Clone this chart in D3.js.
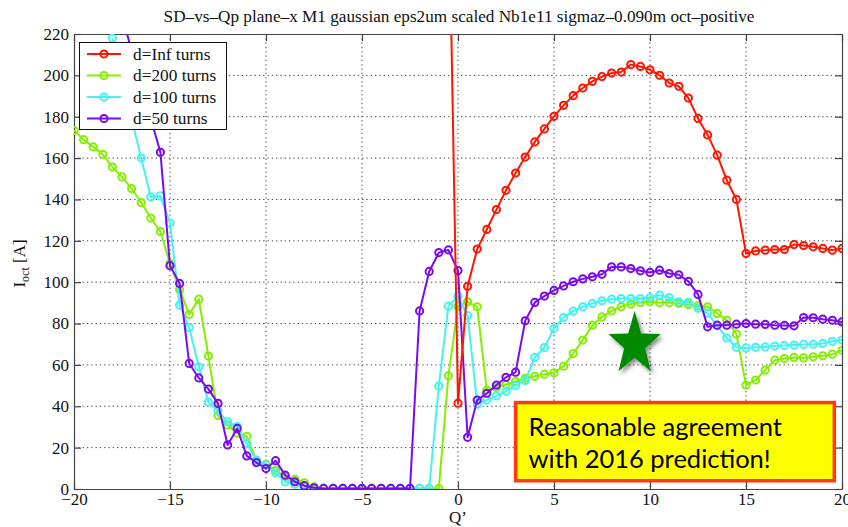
<!DOCTYPE html>
<html>
<head>
<meta charset="utf-8">
<script src="https://cdn.jsdelivr.net/npm/d3@7"></script>
<style>
  html, body { margin: 0; padding: 0; background: #fff; }
  svg { display: block; }
  text.serif, .axis text { font-family: "Liberation Serif", "Times New Roman", serif; }
</style>
</head>
<body>
<svg id="chart" width="848" height="527"></svg>
<script>
// ---------------- DATA ----------------
const titleText = "SD–vs–Qp plane–x M1 gaussian eps2um scaled Nb1e11 sigmaz–0.090m oct–positive";
const xTicks = [-20, -15, -10, -5, 0, 5, 10, 15, 20];
const yTicks = [0, 20, 40, 60, 80, 100, 120, 140, 160, 180, 200, 220];
const seriesNames = ["d=Inf turns", "d=200 turns", "d=100 turns", "d=50 turns"];
const seriesColors = ["#ff1500", "#84f000", "#45f2f2", "#7a0af0"];
const qpStep = 0.5;

// d=Inf turns, first point at Q' = -0.5
const qpStartInf = -0.5;
const iInf = [300, 41.5, 98, 116, 125.5, 135.1, 144.4, 152.8, 160.5, 167.8, 174.1, 180.2, 185.5, 190.2,
  193.9, 197.1, 199.4, 201.1, 201.6, 205.2, 204.3, 202.7, 200, 196.3, 194.7, 189, 179.2, 171.2, 161.4,
  149.3, 140, 113.9, 115.1, 115.5, 115.8, 115.8, 118.2, 117.7, 117.1, 116.3, 115.5, 116.3];

// d=200 turns, first point at Q' = -20
const qpStart200 = -20;
const i200 = [173.4, 168.9, 165.4, 161.8, 155.7, 150.9, 145.3, 138.5, 131, 124.5, 109, 96.5, 84.4, 91.8,
  64.3, 35.5, 31, 27, 25.5, 14, 12, 9, 6, 4.7, 3, 1, 0.4,
  0.3, 0.3, 0.3, 0.3, 0.3, 0.3, 0.3, 0.3, 0.3, 0.3, 0.3, 0.3,
  54.7, 88.4, 90.5, 88.1, 47.8, 49, 50.5, 52, 53.5, 54.5, 55.5, 56.2, 59.4, 65.5, 72, 79.2, 83.2, 86.1,
  88.1, 89.4, 90.2, 90.5, 90.2, 90, 89.7, 89.2, 88.5, 88.1, 84.9, 81.6, 74.9, 50.2, 52.7, 57.5, 62.3,
  63.1, 63.6, 63.4, 63.9, 64.4, 65.2, 67.1];

// d=100 turns, first point at Q' = -18
const qpStart100 = -18;
const i100 = [218, 198, 179, 160, 141.2, 141.7, 128.6, 88.9, 78.1, 59.1, 42, 37.8, 32.5, 30.3, 22, 14,
  11.6, 7.8, 3.5, 2.3, 1,
  0.3, 0.3, 0.3, 0.3, 0.3, 0.3, 0.3, 0.3, 0.3, 0.3, 0.3, 0.3, 0.3,
  49.8, 88.4, 93.2, 83.8, 41, 43, 45, 47.3, 50, 52.5, 63.6, 68.4, 77.6, 82.9, 86, 88.1, 89.7, 91, 91.8,
  92.1, 92.1, 92.1, 92.6, 93.7, 92.6, 90.5, 90.3, 87.4, 85, 79, 73, 68.5, 68.2, 68.5, 68.7, 69.1, 69.4,
  69.6, 69.9, 70, 70.4, 71.4, 72];

// d=50 turns, first point at Q' = -17.5
const qpStart50 = -17.5;
const i50 = [229, 212, 196, 179, 162.8, 108, 99.4, 60.7, 53.7, 48.3, 41.4, 21.3, 29.3, 16, 12.8, 9.9,
  13.7, 6.7, 3.5, 1.6, 0.6,
  0.3, 0.3, 0.3, 0.3, 0.3, 0.3, 0.3, 0.3, 0.3, 0.3,
  86.1, 105.2, 114.3, 115.6, 105.6, 25, 43, 46.3, 50.2, 54, 56.5, 81.3, 90.2, 93.3, 96, 98.2, 100.2,
  101.6, 102.6, 103.8, 107.4, 107.4, 106.6, 105.5, 104.7, 105.8, 104.2, 103.6, 100.4, 94.1, 78.4, 79.2,
  79.2, 79.7, 80, 79.7, 79.6, 79.2, 79.1, 78.9, 82.9, 82.8, 82.1, 81.6, 80.8];

const noteLines = ["Reasonable agreement", "with 2016 prediction!"];
const starQp = 9.2, starI = 70;

// ---------------- CHART ----------------
const svg = d3.select("#chart");
const L = 74, R = 842, T = 34, B = 489;
const x = d3.scaleLinear().domain([-20, 20]).range([L, R]);
const y = d3.scaleLinear().domain([0, 220]).range([B, T]);

const defs = svg.append("defs");
defs.append("clipPath").attr("id", "plotclip")
  .append("rect").attr("x", L).attr("y", T).attr("width", R - L).attr("height", B - T);
const f = defs.append("filter").attr("id", "shadow").attr("x", "-30%").attr("y", "-30%").attr("width", "170%").attr("height", "170%");
f.append("feDropShadow").attr("dx", 2.5).attr("dy", 3).attr("stdDeviation", 2.2)
  .attr("flood-color", "#000").attr("flood-opacity", 0.45);

// title
svg.append("text").attr("class", "serif").attr("x", 459).attr("y", 22).attr("text-anchor", "middle")
  .attr("font-size", 17.2).attr("fill", "#111").text(titleText);

// grid
const grid = svg.append("g").attr("stroke", "#444").attr("stroke-width", 1)
  .attr("stroke-dasharray", "1.3,3");
grid.selectAll(".gx").data(xTicks.filter(d => d > -20 && d < 20)).join("line")
  .attr("x1", d => x(d)).attr("x2", d => x(d)).attr("y1", T).attr("y2", B);
grid.selectAll(".gy").data(yTicks.filter(d => d > 0 && d < 220)).join("line")
  .attr("y1", d => y(d)).attr("y2", d => y(d)).attr("x1", L).attr("x2", R);

// axes
const fmt = d => (d < 0 ? "−" + Math.abs(d) : String(d));
const axB = svg.append("g").attr("class", "axis").attr("transform", `translate(0,${B})`)
  .call(d3.axisBottom(x).tickValues(xTicks).tickFormat(fmt).tickSizeInner(-7).tickSizeOuter(0).tickPadding(4));
const axL = svg.append("g").attr("class", "axis").attr("transform", `translate(${L},0)`)
  .call(d3.axisLeft(y).tickValues(yTicks).tickFormat(fmt).tickSizeInner(-7).tickSizeOuter(0).tickPadding(5));
const axT = svg.append("g").attr("class", "axis").attr("transform", `translate(0,${T})`)
  .call(d3.axisTop(x).tickValues(xTicks).tickFormat("").tickSizeInner(-7).tickSizeOuter(0));
const axR = svg.append("g").attr("class", "axis").attr("transform", `translate(${R},0)`)
  .call(d3.axisRight(y).tickValues(yTicks).tickFormat("").tickSizeInner(-7).tickSizeOuter(0));
[axB, axL, axT, axR].forEach(a => {
  a.selectAll("path.domain").attr("stroke", "#444").attr("stroke-width", 1.2);
  a.selectAll(".tick line").attr("stroke", "#444").attr("stroke-width", 1.2);
  a.selectAll("text").attr("font-size", 17).attr("fill", "#111");
});

// axis labels
svg.append("text").attr("class", "serif").attr("x", x(0)).attr("y", 523).attr("text-anchor", "middle")
  .attr("font-size", 17).attr("fill", "#111").text("Q’");
const yl = svg.append("text").attr("class", "serif").attr("transform", `translate(25,${(T + B) / 2 + 2}) rotate(-90)`)
  .attr("text-anchor", "middle").attr("font-size", 17).attr("fill", "#111");
yl.append("tspan").text("I");
yl.append("tspan").attr("font-size", 12).attr("dy", 4).text("oct");
yl.append("tspan").attr("dy", -4).text(" [A]");

// series
const series = [
  { name: seriesNames[1], color: seriesColors[1], start: qpStart200, vals: i200 },
  { name: seriesNames[2], color: seriesColors[2], start: qpStart100, vals: i100 },
  { name: seriesNames[3], color: seriesColors[3], start: qpStart50, vals: i50 },
  { name: seriesNames[0], color: seriesColors[0], start: qpStartInf, vals: iInf }
].map(s => ({ ...s, pts: s.vals.map((v, i) => ({ q: s.start + i * qpStep, v })) }));

const plot = svg.append("g").attr("clip-path", "url(#plotclip)");
const line = d3.line().x(d => x(d.q)).y(d => y(d.v));
series.forEach(s => {
  const g = plot.append("g");
  g.append("path").datum(s.pts).attr("d", line).attr("fill", "none")
    .attr("stroke", s.color).attr("stroke-width", 2).attr("stroke-linejoin", "round");
  g.selectAll("circle").data(s.pts).join("circle")
    .attr("cx", d => x(d.q)).attr("cy", d => y(d.v)).attr("r", 3.6)
    .attr("fill", "none").attr("stroke", s.color).attr("stroke-width", 2);
});

// legend
const lg = svg.append("g");
lg.append("rect").attr("x", 79.5).attr("y", 42.5).attr("width", 147).attr("height", 87)
  .attr("fill", "#fff").attr("stroke", "#111").attr("stroke-width", 1);
seriesNames.forEach((n, i) => {
  const yy = 54 + i * 21.5;
  lg.append("line").attr("x1", 87).attr("x2", 121).attr("y1", yy).attr("y2", yy)
    .attr("stroke", seriesColors[i]).attr("stroke-width", 2);
  lg.append("circle").attr("cx", 104).attr("cy", yy).attr("r", 3.6)
    .attr("fill", "none").attr("stroke", seriesColors[i]).attr("stroke-width", 2);
  lg.append("text").attr("class", "serif").attr("x", 133).attr("y", yy + 5.5)
    .attr("font-size", 17.3).attr("fill", "#111").text(n);
});

// star annotation
const cx = x(starQp), cy = y(starI), Ry = 33.5, Rx = 27.5, rr = 0.4;
const starPts = d3.range(10).map(k => {
  const a = -Math.PI / 2 + k * Math.PI / 5;
  const r = k % 2 === 0 ? 1 : rr;
  return [cx + Rx * r * Math.cos(a), cy + Ry * r * Math.sin(a)];
});
svg.append("path").attr("d", "M" + starPts.map(p => p.join(",")).join("L") + "Z")
  .attr("fill", "#068a06").attr("filter", "url(#shadow)");

// text box annotation
const bx0 = x(3.0), bx1 = x(19.6), by0 = y(41.8), by1 = y(4);
svg.append("rect").attr("x", bx0).attr("y", by0).attr("width", bx1 - bx0).attr("height", by1 - by0)
  .attr("fill", "#ffff00").attr("stroke", "#ff3a12").attr("stroke-width", 3.5);
noteLines.forEach((t, i) => {
  svg.append("text").attr("x", bx0 + 13).attr("y", by0 + 33 + i * 32)
    .style("font-family", "Lato, 'Open Sans', sans-serif").attr("font-size", 25.5).attr("fill", "#000").text(t);
});
</script>
</body>
</html>
